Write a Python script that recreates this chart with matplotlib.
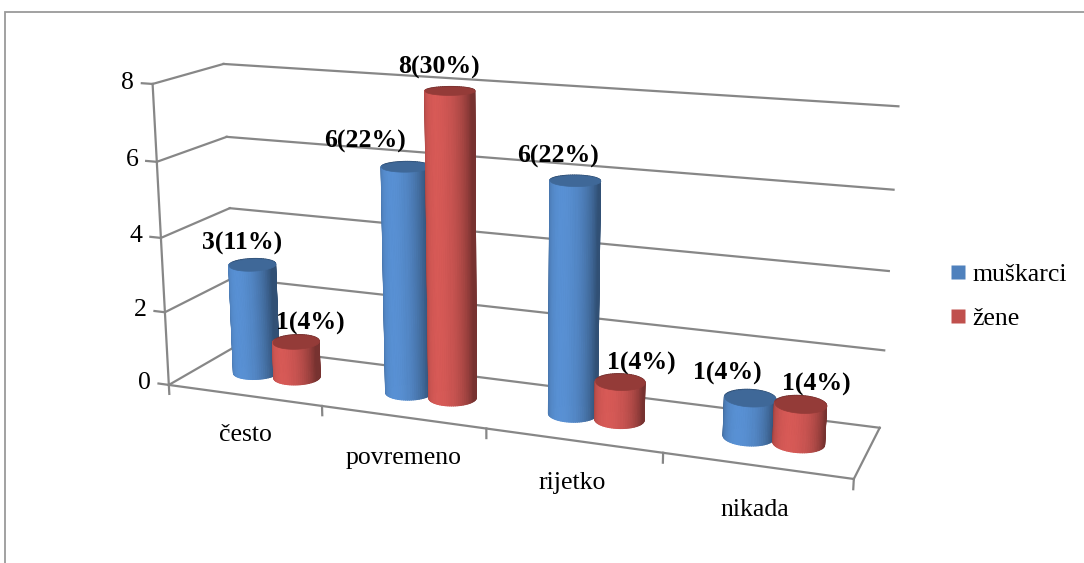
import numpy as np
import matplotlib
matplotlib.use("Agg")
import matplotlib.pyplot as plt
from matplotlib.patches import Rectangle
from matplotlib.lines import Line2D
from mpl_toolkits.mplot3d.art3d import Poly3DCollection

plt.rcParams['font.family'] = ['Liberation Serif', 'DejaVu Serif']

categories = ['često', 'povremeno', 'rijetko', 'nikada']
series_names = ['muškarci', 'žene']
muskarci = [3, 6, 6, 1]
zene = [1, 8, 1, 1]
labels_m = ['3(11%)', '6(22%)', '6(22%)', '1(4%)']
labels_z = ['1(4%)', '8(30%)', '1(4%)', '1(4%)']
value_ticks = [0, 2, 4, 6, 8]

body_colors = [(79, 129, 189), (192, 80, 77)]
top_colors = ['#3f6898', '#943b38']
grid_color = '#878787'

fig = plt.figure(figsize=(10.84, 5.63), dpi=100)
ax = fig.add_axes([0.015, 0.015, 0.9, 1.04], projection='3d', computed_zorder=False)

n_cat = len(categories)
depth = 0.78
r = 0.136
azim, elev = -69, 15
ax.set_xlim(0, n_cat)
ax.set_ylim(0, depth)
ax.set_zlim(0, 8)
ax.set_box_aspect((n_cat, depth, 8 * 0.222), zoom=1.335)
ax.set_proj_type('persp', focal_length=0.55)
ax.view_init(elev=elev, azim=azim)
ax.set_axis_off()

# walls / floor
lkw = dict(color=grid_color, lw=1.6, zorder=1, clip_on=False)
for z in value_ticks:
    ax.plot([0, n_cat], [depth, depth], [z, z], **lkw)
    ax.plot([0, 0], [0, depth], [z, z], **lkw)
    ax.plot([0, -0.07], [0, 0], [z, z], **lkw)
    ax.text(-0.12, 0, z, str(z), ha='right', va='center', fontsize=18.5)
ax.plot([0, 0], [0, 0], [0, value_ticks[-1]], **lkw)
ax.plot([0, n_cat], [0, 0], [0, 0], **lkw)
ax.plot([n_cat, n_cat], [0, depth], [0, 0], **lkw)
for i in range(n_cat + 1):
    ax.plot([i, i], [0, 0], [0, -0.25], **lkw)
for i, cat in enumerate(categories):
    ax.text(i + 0.5, 0, -1.1, cat, ha='center', va='center', fontsize=18.5)

# cylinders
theta = np.linspace(0, 2 * np.pi, 73)
phi_light = np.radians(azim - 30)


def cylinder(xc, yc, h, base, top, zo):
    quads, cols = [], []
    for a0, a1 in zip(theta[:-1], theta[1:]):
        x0, y0 = xc + r * np.cos(a0), yc + r * np.sin(a0)
        x1, y1 = xc + r * np.cos(a1), yc + r * np.sin(a1)
        quads.append([(x0, y0, 0), (x1, y1, 0), (x1, y1, h), (x0, y0, h)])
        am = 0.5 * (a0 + a1)
        f = 0.62 + 0.5 * max(0.0, np.cos(am - phi_light))
        cols.append(tuple(min(1.0, c / 255 * f) for c in base))
    side = Poly3DCollection(quads, facecolors=cols, edgecolors=cols, linewidths=0.8)
    side.set_zorder(zo)
    side.set_clip_on(False)
    ax.add_collection3d(side)
    cap = [(xc + r * np.cos(a), yc + r * np.sin(a), h) for a in theta]
    capc = Poly3DCollection([cap], facecolors=top, edgecolors=top, linewidths=0.5)
    capc.set_zorder(zo + 0.5)
    capc.set_clip_on(False)
    ax.add_collection3d(capc)


label_dx = [[-0.06, -0.25, -0.1, -0.13], [0.1, -0.06, 0.12, 0.08]]
zo = 2
for i in range(n_cat):
    for s, (vals, labs) in enumerate([(muskarci, labels_m), (zene, labels_z)]):
        xc = i + 0.5 + (2 * s - 1) * r
        cylinder(xc, depth / 2, vals[i], body_colors[s], top_colors[s], zo)
        ax.text(xc + label_dx[s][i], depth / 2, vals[i] + 0.55, labs[i], ha='center', va='center',
                fontsize=18.5, fontweight='bold', zorder=50)
        zo += 1

handles = [Line2D([], [], marker='s', ls='none', markersize=10,
                  markerfacecolor=np.array(c) / 255, markeredgecolor='none')
           for c in body_colors]
fig.legend(handles, series_names, loc='center left', bbox_to_anchor=(0.86, 0.474),
           frameon=False, fontsize=18.5, handletextpad=0.05, labelspacing=0.82,
           borderpad=0, handlelength=1.0)

fig.add_artist(Rectangle((4.5 / 1084, -0.1), 1.2, 1.1 - 12 / 563, transform=fig.transFigure,
                         fill=False, ec='#9a9a9a', lw=1.3))

fig.savefig('out.png', dpi=100)
